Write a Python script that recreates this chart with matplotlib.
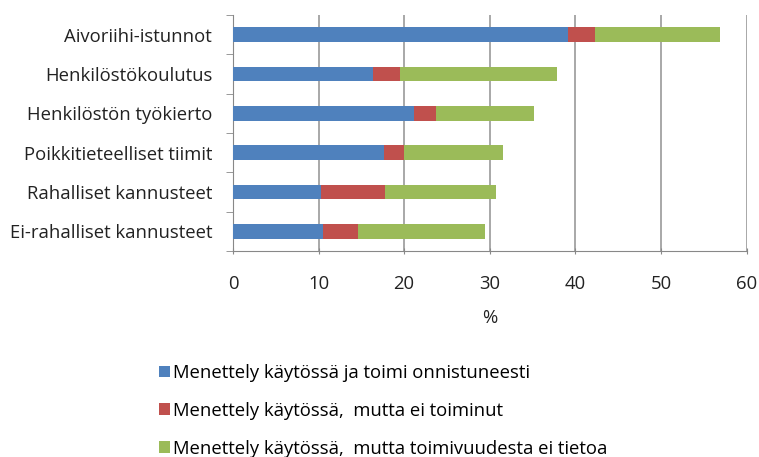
import numpy as np
import matplotlib.pyplot as plt
from matplotlib.patches import Patch

categories = ["Aivoriihi-istunnot", "Henkilöstökoulutus", "Henkilöstön työkierto",
              "Poikkitieteelliset tiimit", "Rahalliset kannusteet", "Ei-rahalliset kannusteet"]
toimi = [39.1, 16.4, 21.1, 17.6, 10.3, 10.5]
ei_toiminut = [3.2, 3.1, 2.6, 2.4, 7.5, 4.1]
ei_tietoa = [14.6, 18.3, 11.5, 11.6, 12.9, 14.9]
series_names = ["Menettely käytössä ja toimi onnistuneesti",
                "Menettely käytössä,  mutta ei toiminut",
                "Menettely käytössä,  mutta toimivuudesta ei tietoa"]
colors = ["#4f81bd", "#c0504d", "#9bbb59"]

plt.rcParams['font.family'] = ['Open Sans', 'DejaVu Sans']
fs = 13.3

fig = plt.figure(figsize=(7.59, 4.57), dpi=100)
ax = fig.add_axes([233 / 759, 1 - 251 / 457, (746.5 - 233) / 759, (251 - 15) / 457])

y = np.arange(len(categories))[::-1]
left = np.zeros(len(categories))
for vals, c in zip([toimi, ei_toiminut, ei_tietoa], colors):
    ax.barh(y, vals, left=left, height=0.38, color=c, edgecolor="none", zorder=3)
    left += np.array(vals)

ax.set_xlim(0, 60)
ax.set_ylim(-0.5, len(categories) - 0.5)
ax.set_xticks(range(0, 61, 10))
ax.set_yticks(y)
ax.set_yticklabels(categories, fontsize=fs, color="#222222")
ax.set_yticks(np.arange(-0.5, len(categories), 1), minor=True)
ax.tick_params(axis="y", which="major", length=0, pad=15)
ax.tick_params(axis="y", which="minor", length=5, color="#888888", direction="out")
ax.tick_params(axis="x", length=5, color="#888888", direction="inout", labelsize=fs,
               labelcolor="#222222", pad=14.5)
ax.grid(axis="x", color="#999999", linewidth=1.2, zorder=0)
for s in ["top", "right"]:
    ax.spines[s].set_visible(False)
for s in ["left", "bottom"]:
    ax.spines[s].set_color("#888888")
ax.set_xlabel("%", fontsize=fs, color="#222222", labelpad=12)

handles = [Patch(facecolor=c, edgecolor="none") for c in colors]
fig.legend(handles, series_names, loc="upper left", bbox_to_anchor=(159 / 759, 1 - 364 / 457),
           frameon=False, fontsize=fs, handlelength=0.6, handleheight=0.6,
           handletextpad=0.15, labelspacing=1.07, borderaxespad=0, borderpad=0)

fig.savefig("out.png", dpi=100)
